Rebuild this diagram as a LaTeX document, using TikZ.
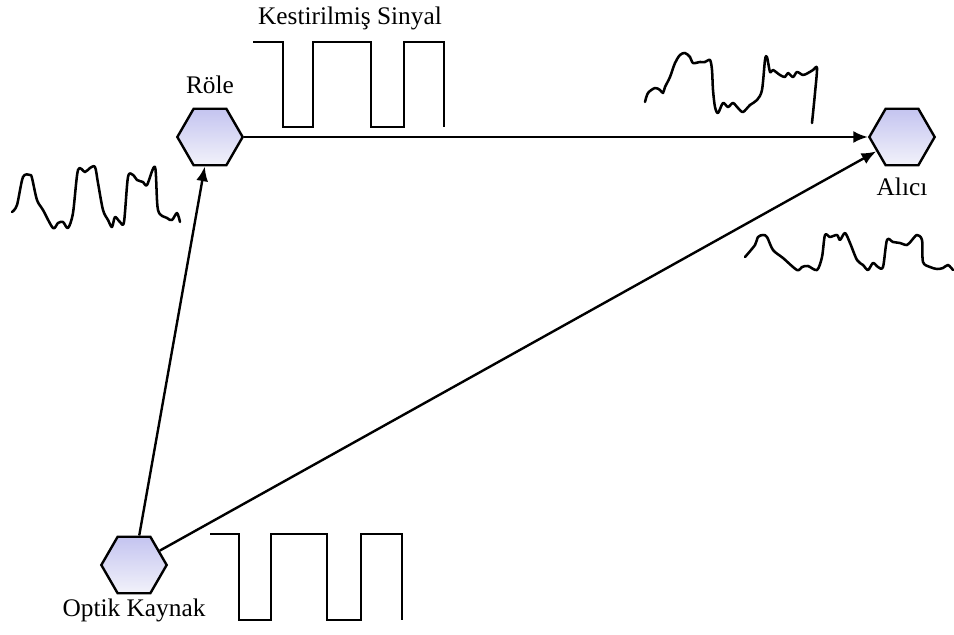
\documentclass[tikz,border=0pt]{standalone}
\usepackage{fontspec}
\setmainfont{Liberation Serif}
\usepackage{tikz}
\usetikzlibrary{shapes.geometric, arrows, arrows.meta}
\tikzstyle{station} = [regular polygon, regular polygon sides=6, minimum size=49pt, inner sep=0pt, draw=black, line width=1.8pt, top color={rgb,255:red,196;green,196;blue,240}, bottom color={rgb,255:red,242;green,242;blue,250}]
\tikzstyle{caption} = [font=\fontsize{19}{22}\selectfont, text centered]
\tikzstyle{arrow} = [line width=1.8pt,->,>={Latex[length=11pt, width=9pt]}]
\tikzstyle{pulse} = [line width=1.9pt, line join=miter]
\tikzstyle{noisy} = [line width=1.9pt, line join=round, line cap=round]

\begin{document}
\begin{tikzpicture}[x=0.75pt, y=-0.75pt]
\useasboundingbox (0,0) rectangle (954,635);
\node (role) [station] at (210,137) {};
\node (alici) [station] at (902,137) {};
\node (kaynak) [station] at (134,565) {};
\node (roleLabel) [caption, above of=role, node distance=39pt] {Röle};
\node (aliciLabel) [caption, below of=alici, node distance=37.5pt] {Alıcı};
\node (kaynakLabel) [caption, below of=kaynak, node distance=34pt] {Optik Kaynak};
\node (sinyalLabel) [caption] at (350,18) {Kestirilmiş Sinyal};

\draw [arrow] (role) -- (alici);
\draw [arrow] (kaynak) -- (role);
\draw [arrow] (kaynak) -- (alici);

% square waves
\draw [pulse] (253,42) -- (283,42) -- (283,127) -- (313,127) -- (313,42) -- (371,42) -- (371,127) -- (404,127) -- (404,42) -- (444,42) -- (444,127);
\draw [pulse] (210,534) -- (239,534) -- (239,620) -- (271,620) -- (271,534) -- (327,534) -- (327,620) -- (361,620) -- (361,534) -- (402,534) -- (402,620);

% received signals
\draw [noisy] plot[smooth, tension=0.5] coordinates {(12,212) (17,205) (23,177) (30,175) (32,178) (37,200) (43,210) (53,228) (58,223) (63,222) (68,228) (73,213) (78,170) (85,172) (90,168) (95,167) (98,183) (103,210) (108,220) (112,227) (115,217) (120,222) (124,222) (128,177) (133,175) (137,180) (143,182) (147,185) (155,167) (158,210) (167,218) (172,220) (177,213) (180,222)};
\draw [noisy] plot[smooth, tension=0.5] coordinates {(745,257) (755,245) (758,237) (763,235) (767,237) (773,250) (783,258) (797,270) (802,267) (808,266) (817,270) (822,257) (825,235) (830,237) (837,235) (840,240) (845,233) (850,243) (857,260) (863,265) (868,270) (873,263) (878,267) (883,267) (887,240) (893,242) (900,243) (907,245) (912,240) (917,235) (922,240) (923,262) (930,267) (937,269) (943,268) (948,265) (953,270)};
\draw [noisy] plot[smooth, tension=0.5] coordinates {(645,102) (648,93) (655,88) (660,90) (663,93) (665,87) (670,77) (675,63) (680,55) (685,53) (690,57) (693,63) (700,62) (705,62) (710,60) (712,70) (713,90) (715,107) (718,113) (723,103) (728,107) (733,103) (738,108) (743,112) (750,105) (757,100) (762,90) (765,60) (767,57) (770,72) (773,70) (780,75) (785,77) (788,73) (793,77) (797,72) (803,75) (808,73) (813,70) (817,68) (815,93) (812,123)};
\end{tikzpicture}
\end{document}
